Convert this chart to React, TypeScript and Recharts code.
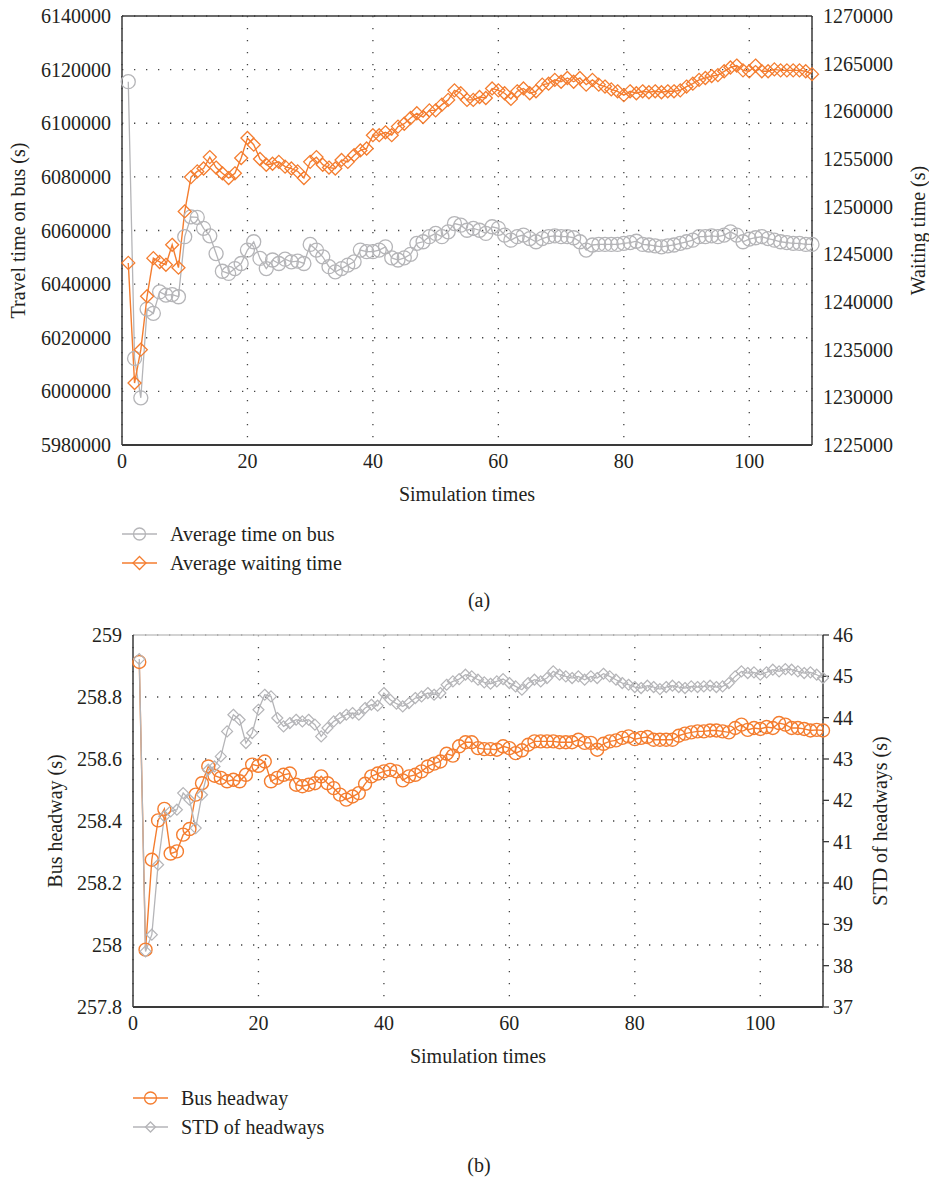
import React from 'react';
import {
  LineChart,
  Line,
  XAxis,
  YAxis,
  CartesianGrid,
  Legend,
  ReferenceLine,
} from 'recharts';

// ---------------- Panel (a) data ----------------
const timeOnBus = [
  6115500, 6012300, 5997600, 6030700, 6029100, 6037100, 6035900, 6036100, 6035300, 6057700,
  6065100, 6064900, 6060800, 6058000, 6051400, 6044800, 6044000, 6045800, 6047700, 6052700,
  6055800, 6049600, 6045800, 6049000, 6047700, 6049300, 6048300, 6048600, 6047700, 6054800,
  6052700, 6050200, 6046500, 6044600, 6045800, 6047100, 6048300, 6052700, 6052100, 6052100,
  6052700, 6053900, 6049800, 6049000, 6049800, 6051100, 6055200, 6055800, 6057700, 6058900,
  6057700, 6059500, 6062600, 6062000, 6060100, 6060800, 6060100, 6058900, 6061400, 6060800,
  6058300, 6056400, 6057700, 6058300, 6057000, 6055800, 6057000, 6057700, 6058000, 6057700,
  6057700, 6057300, 6055800, 6052700, 6054600, 6054800, 6054800, 6054800, 6054800, 6055200,
  6055500, 6056000, 6054800, 6054600, 6054300, 6053900, 6054300, 6054600, 6055200, 6055800,
  6056400, 6057700, 6057700, 6058000, 6057700, 6058300, 6059500, 6058300, 6055800, 6056800,
  6057300, 6057700, 6057000, 6056400, 6055800, 6055500, 6055200, 6055200, 6054800, 6054800,
];

const waitingTime = [
  1244100, 1231500, 1235000, 1240600, 1244600, 1244200, 1243900, 1246000, 1243600, 1249500,
  1253100, 1253700, 1254000, 1255200, 1254100, 1253500, 1253000, 1253500, 1255100, 1257200,
  1256500, 1255000, 1254400, 1254500, 1254700, 1254200, 1254000, 1253700, 1253000, 1254700,
  1255200, 1254400, 1254100, 1254000, 1254900, 1254700, 1255400, 1255900, 1256100, 1257500,
  1257500, 1257800, 1257500, 1258400, 1258700, 1259300, 1259800, 1259400, 1260100, 1260100,
  1260700, 1261200, 1262200, 1261900, 1261200, 1261200, 1261500, 1261400, 1262400, 1262200,
  1261900, 1261300, 1262100, 1262400, 1261900, 1262100, 1262800, 1262900, 1263300, 1263100,
  1263500, 1263100, 1263500, 1262800, 1263300, 1262800, 1262600, 1262300, 1262100, 1261700,
  1262100, 1261900, 1262100, 1262000, 1262100, 1262000, 1262100, 1262100, 1262200, 1262600,
  1262900, 1263300, 1263500, 1263700, 1263800, 1264200, 1264600, 1264800, 1264300, 1264200,
  1264800, 1264200, 1264200, 1264400, 1264300, 1264300, 1264300, 1264300, 1264200, 1263900,
];

// ---------------- Panel (b) data ----------------
const busHeadway = [
  258.913, 257.985, 258.275, 258.402, 258.439, 258.295, 258.302, 258.356, 258.374, 258.485,
  258.522, 258.576, 258.546, 258.539, 258.528, 258.533, 258.528, 258.549, 258.582, 258.578,
  258.592, 258.528, 258.539, 258.549, 258.553, 258.517, 258.512, 258.517, 258.522, 258.544,
  258.522, 258.506, 258.485, 258.469, 258.479, 258.490, 258.520, 258.544, 258.553, 258.560,
  258.565, 258.560, 258.531, 258.544, 258.549, 258.560, 258.576, 258.585, 258.592, 258.617,
  258.611, 258.641, 258.654, 258.654, 258.635, 258.632, 258.632, 258.630, 258.641, 258.635,
  258.619, 258.628, 258.646, 258.657, 258.657, 258.657, 258.657, 258.654, 258.654, 258.654,
  258.662, 258.652, 258.652, 258.630, 258.649, 258.657, 258.660, 258.668, 258.673, 258.664,
  258.668, 258.671, 258.662, 258.662, 258.662, 258.662, 258.675, 258.682, 258.686, 258.689,
  258.689, 258.692, 258.692, 258.689, 258.686, 258.700, 258.711, 258.694, 258.700, 258.697,
  258.703, 258.700, 258.716, 258.711, 258.700, 258.700, 258.697, 258.692, 258.694, 258.692,
];

const stdHeadways = [
  45.418, 38.345, 38.749, 40.442, 41.612, 41.733, 41.773, 42.176, 42.015, 41.329,
  42.136, 42.741, 42.821, 43.063, 43.668, 44.071, 43.950, 43.386, 43.628, 44.192,
  44.555, 44.515, 43.991, 43.789, 43.870, 43.950, 43.910, 43.950, 43.830, 43.547,
  43.749, 43.910, 43.991, 44.071, 44.112, 44.071, 44.233, 44.313, 44.289, 44.596,
  44.434, 44.338, 44.273, 44.354, 44.475, 44.515, 44.596, 44.555, 44.596, 44.797,
  44.878, 44.934, 45.039, 44.999, 44.918, 44.854, 44.821, 44.878, 44.934, 44.838,
  44.757, 44.676, 44.838, 44.918, 44.878, 44.959, 45.120, 45.039, 44.999, 44.959,
  44.999, 44.918, 44.999, 44.959, 45.063, 44.999, 44.918, 44.838, 44.797, 44.741,
  44.717, 44.773, 44.741, 44.692, 44.741, 44.773, 44.741, 44.717, 44.757, 44.741,
  44.757, 44.773, 44.741, 44.757, 44.838, 44.999, 45.120, 45.080, 45.096, 45.039,
  45.096, 45.160, 45.120, 45.176, 45.160, 45.120, 45.080, 45.096, 45.039, 44.959,
];

const simTimes = timeOnBus.map((_, i) => i + 1);

const xTicks = [0, 20, 40, 60, 80, 100];
const travelTicks = [5980000, 6000000, 6020000, 6040000, 6060000, 6080000, 6100000, 6120000, 6140000];
const waitingTicks = [1225000, 1230000, 1235000, 1240000, 1245000, 1250000, 1255000, 1260000, 1265000, 1270000];
const headwayTicks = [257.8, 258, 258.2, 258.4, 258.6, 258.8, 259];
const stdTicks = [37, 38, 39, 40, 41, 42, 43, 44, 45, 46];

const dataA = simTimes.map((n, i) => ({ n, bus: timeOnBus[i], wait: waitingTime[i] }));
const dataB = simTimes.map((n, i) => ({ n, headway: busHeadway[i], std: stdHeadways[i] }));

// ---------------- Styles ----------------
const FONT = "'Liberation Serif', 'Times New Roman', serif";
const TEXT = '#231f20';
const ORANGE = '#f47d2f';
const GRAY = '#b5b5b8';
const FRAME = '#3a3a3a';
const tickStyle = { fill: TEXT, fontSize: 20, fontFamily: FONT };

const diamondDot = (color: string, s: number, sw: number) => (props: any) => {
  const { cx, cy, index } = props;
  if (cx == null || cy == null) return <g key={`e${index}`} />;
  return (
    <path
      key={`d${index}`}
      d={`M${cx},${cy - s}L${cx + s},${cy}L${cx},${cy + s}L${cx - s},${cy}Z`}
      fill="none"
      stroke={color}
      strokeWidth={sw}
    />
  );
};

type LegendItem = { label: string; color: string; marker: 'circle' | 'diamond'; size: number };

const makeLegend = (items: LegendItem[], rowH: number) => () => (
  <div style={{ fontFamily: FONT, fontSize: 20, color: TEXT }}>
    {items.map((it) => (
      <div key={it.label} style={{ display: 'flex', alignItems: 'center', height: rowH }}>
        <svg width={48} height={20} style={{ display: 'block' }}>
          <line x1={0} y1={10} x2={35} y2={10} stroke={it.color} strokeWidth={1.4} />
          {it.marker === 'circle' ? (
            <circle cx={17.5} cy={10} r={it.size} fill="none" stroke={it.color} strokeWidth={1.3} />
          ) : (
            <path
              d={`M17.5,${10 - it.size}L${17.5 + it.size},10L17.5,${10 + it.size}L${17.5 - it.size},10Z`}
              fill="none"
              stroke={it.color}
              strokeWidth={1.3}
            />
          )}
        </svg>
        <span style={{ lineHeight: '20px' }}>{it.label}</span>
      </div>
    ))}
  </div>
);

const legendA: LegendItem[] = [
  { label: 'Average time on bus', color: GRAY, marker: 'circle', size: 6 },
  { label: 'Average waiting time', color: ORANGE, marker: 'diamond', size: 6.5 },
];
const legendB: LegendItem[] = [
  { label: 'Bus headway', color: ORANGE, marker: 'circle', size: 6 },
  { label: 'STD of headways', color: GRAY, marker: 'diamond', size: 5 },
];

const rotatedLabel = (value: string, position: 'insideLeft' | 'insideRight', offset: number) => ({
  value,
  angle: -90,
  position,
  offset,
  fill: TEXT,
  fontSize: 20,
  fontFamily: FONT,
  style: { textAnchor: 'middle' as const },
});

const caption = (text: string, top: number) => (
  <div
    style={{
      position: 'absolute',
      left: 379,
      width: 200,
      top,
      textAlign: 'center',
      fontFamily: FONT,
      fontSize: 20,
      color: TEXT,
      lineHeight: '24px',
    }}
  >
    {text}
  </div>
);

export default function App() {
  return (
    <div style={{ position: 'absolute', left: 0, top: 0, width: 929, height: 1179, background: '#fff' }}>
      {/* Panel (a) */}
      <div style={{ position: 'absolute', left: 0, top: 0 }}>
        <LineChart width={929} height={600} data={dataA} margin={{ top: 16, right: 0, left: 0, bottom: 99 }}>
          <CartesianGrid
            yAxisId="left"
            stroke="#444"
            strokeWidth={1.3}
            strokeDasharray="1.3 10.7"
            horizontalValues={travelTicks}
          />
          <XAxis
            dataKey="n"
            type="number"
            domain={[0, 110]}
            ticks={xTicks}
            height={56}
            tickLine={false}
            tickSize={6}
            tickMargin={3}
            tick={tickStyle}
            axisLine={{ stroke: FRAME, strokeWidth: 2 }}
            label={{ value: 'Simulation times', position: 'insideBottom', offset: 0, fill: TEXT, fontSize: 20, fontFamily: FONT }}
          />
          <YAxis
            yAxisId="left"
            orientation="left"
            width={122}
            domain={[5980000, 6140000]}
            ticks={travelTicks}
            tickLine={false}
            tickSize={6}
            tickMargin={5}
            tick={tickStyle}
            axisLine={{ stroke: FRAME, strokeWidth: 1.5 }}
            label={rotatedLabel('Travel time on bus (s)', 'insideLeft', 18)}
          />
          <YAxis
            yAxisId="right"
            orientation="right"
            width={117}
            domain={[1225000, 1270000]}
            ticks={waitingTicks}
            tickLine={false}
            tickSize={6}
            tickMargin={5}
            tick={tickStyle}
            axisLine={{ stroke: FRAME, strokeWidth: 1.5 }}
            label={rotatedLabel('Waiting time (s)', 'insideRight', 11)}
          />
          <ReferenceLine yAxisId="left" y={6140000} stroke={FRAME} strokeWidth={1.5} />
          <Line
            yAxisId="left"
            dataKey="bus"
            stroke={GRAY}
            strokeWidth={1.3}
            dot={{ r: 7, stroke: GRAY, strokeWidth: 1.3, fill: 'none' }}
            isAnimationActive={false}
          />
          <Line
            yAxisId="right"
            dataKey="wait"
            stroke={ORANGE}
            strokeWidth={1.4}
            dot={diamondDot(ORANGE, 6.5, 1.3)}
            isAnimationActive={false}
          />
          <Legend
            layout="vertical"
            align="center"
            verticalAlign="middle"
            content={makeLegend(legendA, 29)}
            wrapperStyle={{ left: 122, top: 519, width: 320, height: 60 }}
          />
        </LineChart>
      </div>
      {caption('(a)', 588)}

      {/* Panel (b) */}
      <div style={{ position: 'absolute', left: 0, top: 610 }}>
        <LineChart width={929} height={569} data={dataB} margin={{ top: 25, right: 0, left: 0, bottom: 116 }}>
          <CartesianGrid
            yAxisId="left"
            stroke="#444"
            strokeWidth={1.3}
            strokeDasharray="1.3 10.7"
            horizontalValues={headwayTicks}
          />
          <XAxis
            dataKey="n"
            type="number"
            domain={[0, 110]}
            ticks={xTicks}
            height={56}
            tickLine={false}
            tickSize={6}
            tickMargin={3}
            tick={tickStyle}
            axisLine={{ stroke: FRAME, strokeWidth: 2 }}
            label={{ value: 'Simulation times', position: 'insideBottom', offset: 0, fill: TEXT, fontSize: 20, fontFamily: FONT }}
          />
          <YAxis
            yAxisId="left"
            orientation="left"
            width={133}
            domain={[257.8, 259]}
            ticks={headwayTicks}
            tickLine={false}
            tickSize={6}
            tickMargin={5}
            tick={tickStyle}
            axisLine={{ stroke: FRAME, strokeWidth: 1.5 }}
            label={rotatedLabel('Bus headway (s)', 'insideLeft', 55)}
          />
          <YAxis
            yAxisId="right"
            orientation="right"
            width={106}
            domain={[37, 46]}
            ticks={stdTicks}
            tickLine={{ stroke: FRAME, strokeWidth: 1.3 }}
            tickSize={6}
            tickMargin={4}
            tick={tickStyle}
            axisLine={{ stroke: FRAME, strokeWidth: 1.5 }}
            label={rotatedLabel('STD of headways (s)', 'insideRight', 49)}
          />
          <ReferenceLine yAxisId="left" y={259} stroke="#c4c4c4" strokeWidth={1.5} />
          <Line
            yAxisId="left"
            dataKey="headway"
            stroke={ORANGE}
            strokeWidth={1.4}
            dot={{ r: 6.5, stroke: ORANGE, strokeWidth: 1.4, fill: 'none' }}
            isAnimationActive={false}
          />
          <Line
            yAxisId="right"
            dataKey="std"
            stroke={GRAY}
            strokeWidth={1.3}
            dot={diamondDot(GRAY, 5.5, 1.2)}
            isAnimationActive={false}
          />
          <Legend
            layout="vertical"
            align="center"
            verticalAlign="middle"
            content={makeLegend(legendB, 28.4)}
            wrapperStyle={{ left: 133, top: 474, width: 320, height: 60 }}
          />
        </LineChart>
      </div>
      {caption('(b)', 1153)}
    </div>
  );
}
